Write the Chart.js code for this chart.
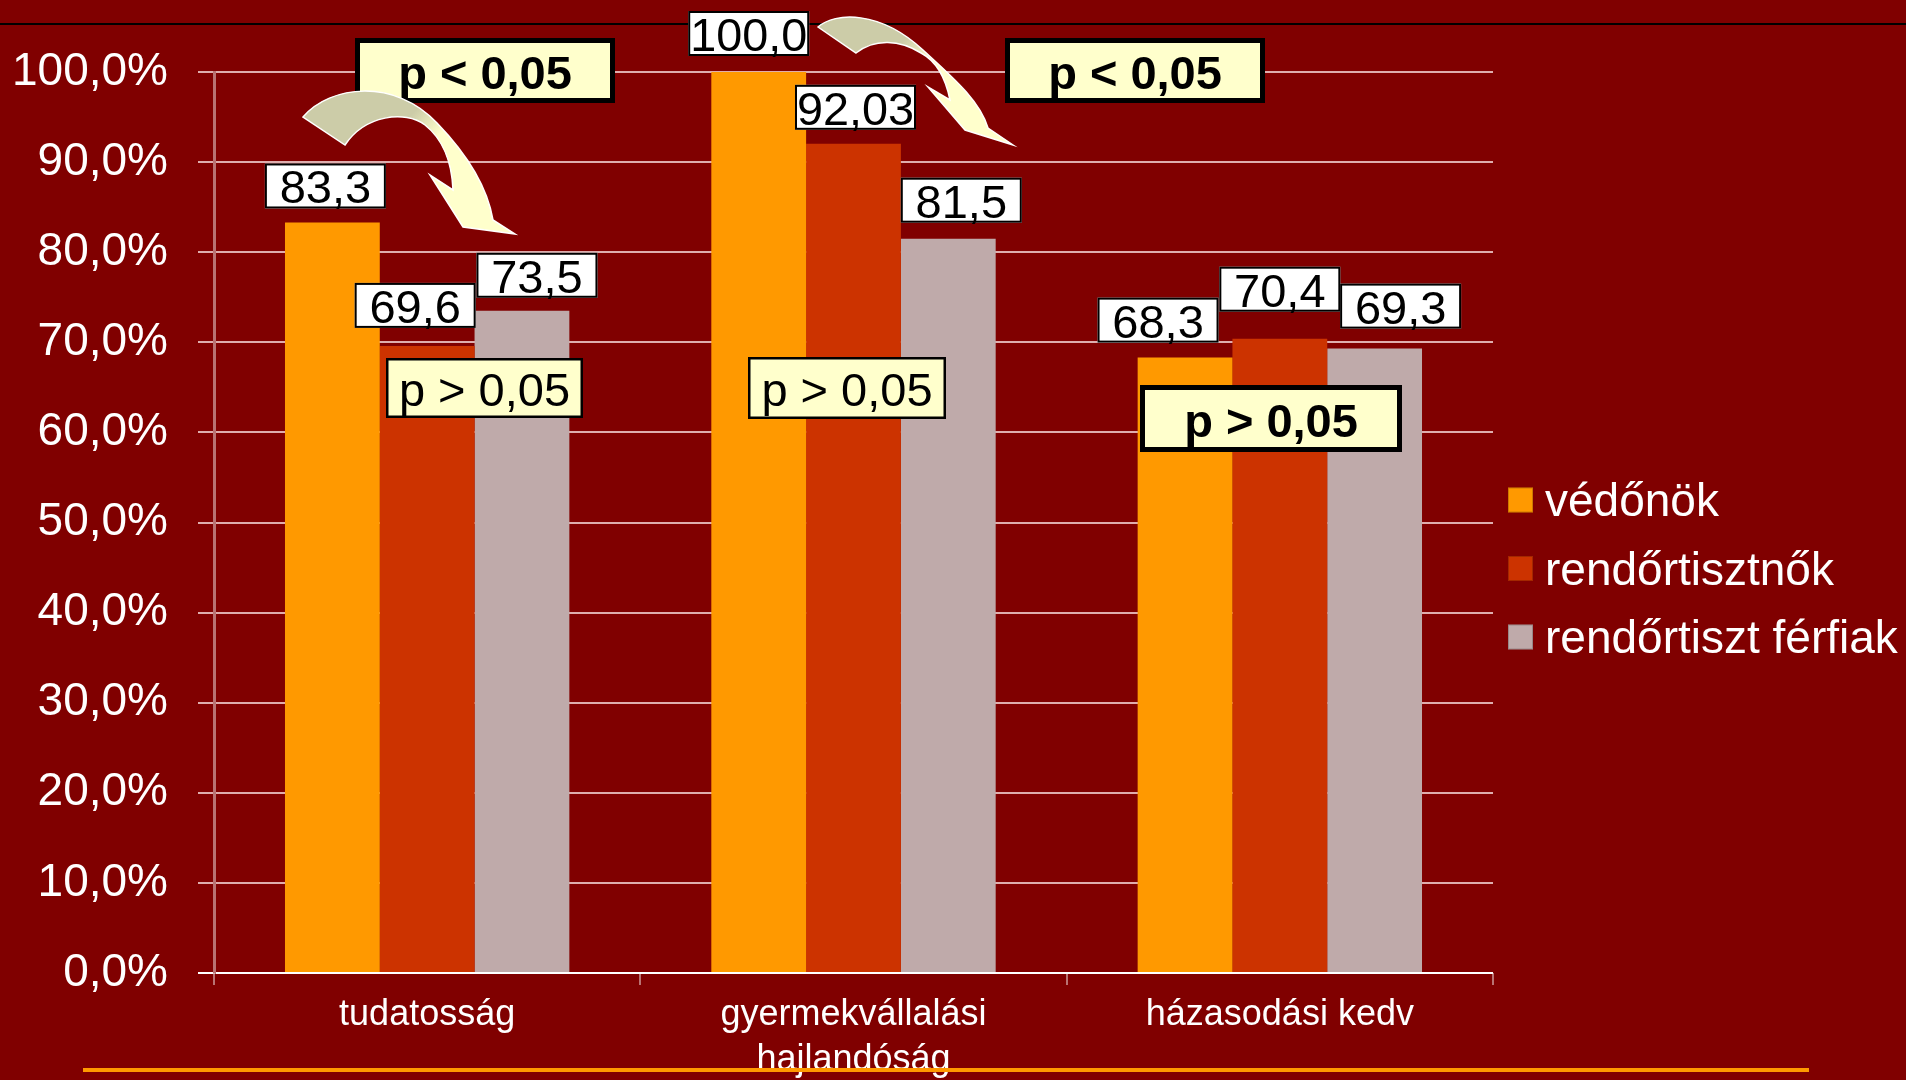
<!DOCTYPE html>
<html>
<head>
<meta charset="utf-8">
<script src="https://cdn.jsdelivr.net/npm/chart.js@4.4.1/dist/chart.umd.min.js"></script>
<style>
  html, body { margin: 0; padding: 0; background: #800000; overflow: hidden; }
  #wrap { position: relative; width: 1906px; height: 1080px; }
</style>
</head>
<body>
<div id="wrap"><canvas id="grafico"></canvas></div>
<script>
// adatok
const kategoriak = ['tudatosság', ['gyermekvállalási', 'hajlandóság'], 'házasodási kedv'];
const sorozatok = ['védőnök', 'rendőrtisztnők', 'rendőrtiszt férfiak'];
const vedonok = [83.3, 100.0, 68.3];
const rendortisztnok = [69.6, 92.03, 70.4];
const ferfiak = [73.5, 81.5, 69.3];
const szinek = ['#FF9900', '#CC3300', '#BFAAAA'];
const pErtekek = ['p < 0,05', 'p < 0,05', 'p > 0,05', 'p > 0,05', 'p > 0,05'];

const FONT = '"Liberation Sans", Arial, sans-serif';

// címkék kis eltolása [dx, rés] sorozatonként
const cimkeEltolas = [
    [[-7, 14], [-10, 16], [-27, 15]],
    [[-12, 18], [2, 14], [0, 27]],
    [[15, 13], [13, 16], [26, 20]]
];

// p-érték dobozok
const pDobozok = [
    { x: 355, y: 38, w: 260, h: 65, bold: true, lw: 5 },
    { x: 1005, y: 38, w: 260, h: 65, bold: true, lw: 5 },
    { x: 1140, y: 385, w: 262, h: 67, bold: true, lw: 5 },
    { x: 386, y: 358, w: 197, h: 60, bold: false, lw: 2.5 },
    { x: 748, y: 357, w: 198, h: 62, bold: false, lw: 2.5 }
];

// ívelt nyilak
const nyilak = [
    { g: [418, 108, 442, 132], cmd: [
        ['M', 303, 117], ['C', 330, 85, 395, 78, 437, 123], ['C', 465, 152, 487, 185, 493, 220],
        ['L', 515, 234], ['L', 463, 227], ['L', 430, 175], ['L', 453, 190],
        ['C', 452, 165, 444, 140, 425, 125], ['C', 405, 110, 365, 115, 345, 145]] },
    { g: [905, 38, 932, 62], cmd: [
        ['M', 818, 27], ['C', 835, 12, 880, 10, 923, 50], ['C', 950, 75, 980, 100, 988, 128],
        ['L', 1013, 145], ['L', 965, 130], ['L', 928, 87], ['L', 950, 100],
        ['C', 946, 80, 938, 62, 921, 53], ['C', 900, 40, 875, 38, 856, 53]] }
];

function formaz(v) {
    const s = Number.isInteger(Math.round(v * 100) / 10) ? v.toFixed(1) : v.toFixed(2);
    return s.replace('.', ',');
}

const extrak = {
    id: 'extrak',
    beforeDraw(chart) {
        const ctx = chart.ctx;
        ctx.save();
        ctx.fillStyle = '#800000';
        ctx.fillRect(0, 0, chart.width, chart.height);
        ctx.strokeStyle = '#000000';
        ctx.lineWidth = 2;
        ctx.beginPath();
        ctx.moveTo(0, 24);
        ctx.lineTo(chart.width, 24);
        ctx.stroke();
        ctx.restore();
    },
    afterDraw(chart) {
        const ctx = chart.ctx;
        ctx.save();

        // adatcímkék
        ctx.font = '47px ' + FONT;
        ctx.textAlign = 'center';
        ctx.textBaseline = 'alphabetic';
        chart.data.datasets.forEach((ds, i) => {
            chart.getDatasetMeta(i).data.forEach((bar, j) => {
                const [dx, gap] = cimkeEltolas[i][j];
                const cx = bar.x + dx;
                const bottom = bar.y - gap;
                const w = 121, h = 45;
                ctx.fillStyle = '#FFFFFF';
                ctx.fillRect(cx - w / 2, bottom - h, w, h);
                ctx.strokeStyle = '#000000';
                ctx.lineWidth = 2;
                ctx.strokeRect(cx - w / 2 + 1, bottom - h + 1, w - 2, h - 2);
                ctx.fillStyle = '#000000';
                ctx.fillText(formaz(ds.data[j]), cx, bottom - 5, w - 4);
            });
        });

        // p-érték dobozok
        pDobozok.forEach((b, k) => {
            ctx.fillStyle = '#FFFFCC';
            ctx.fillRect(b.x, b.y, b.w, b.h);
            ctx.strokeStyle = '#000000';
            ctx.lineWidth = b.lw;
            ctx.strokeRect(b.x + b.lw / 2, b.y + b.lw / 2, b.w - b.lw, b.h - b.lw);
            ctx.fillStyle = '#000000';
            ctx.font = (b.bold ? 'bold ' : '') + '47px ' + FONT;
            ctx.fillText(pErtekek[k], b.x + b.w / 2, b.y + b.h / 2 + 18);
        });

        // nyilak
        nyilak.forEach(a => {
            ctx.beginPath();
            a.cmd.forEach(c => {
                if (c[0] === 'M') ctx.moveTo(c[1], c[2]);
                else if (c[0] === 'L') ctx.lineTo(c[1], c[2]);
                else ctx.bezierCurveTo(c[1], c[2], c[3], c[4], c[5], c[6]);
            });
            ctx.closePath();
            const grad = ctx.createLinearGradient(a.g[0], a.g[1], a.g[2], a.g[3]);
            grad.addColorStop(0, '#CCCCA8');
            grad.addColorStop(1, '#FFFFCC');
            ctx.fillStyle = grad;
            ctx.fill();
            ctx.strokeStyle = '#FFFFFF';
            ctx.lineWidth = 1.5;
            ctx.stroke();
        });

        // jelmagyarázat
        ctx.textAlign = 'left';
        ctx.font = '46px ' + FONT;
        chart.data.datasets.forEach((ds, i) => {
            const cy = 500 + i * 68.5;
            ctx.fillStyle = ds.backgroundColor;
            ctx.fillRect(1508, cy - 12.5, 25, 25);
            ctx.strokeStyle = 'rgba(0,0,0,0.2)';
            ctx.lineWidth = 1;
            ctx.strokeRect(1508.5, cy - 12, 24, 24);
            ctx.fillStyle = '#FFFFFF';
            ctx.fillText(ds.label, 1545, cy + 16);
        });

        // alsó narancs vonal
        ctx.fillStyle = '#FF9900';
        ctx.fillRect(83, 1068, 1726, 4);
        ctx.restore();
    }
};

const ctx = document.getElementById('grafico').getContext('2d');
new Chart(ctx, {
    type: 'bar',
    data: {
        labels: kategoriak,
        datasets: [
            { label: sorozatok[0], data: vedonok, backgroundColor: szinek[0] },
            { label: sorozatok[1], data: rendortisztnok, backgroundColor: szinek[1] },
            { label: sorozatok[2], data: ferfiak, backgroundColor: szinek[2] }
        ]
    },
    options: {
        responsive: true,
        maintainAspectRatio: false,
        animation: false,
        layout: { padding: { top: 72, right: 413, bottom: 0, left: 0 } },
        datasets: { bar: { categoryPercentage: 0.667, barPercentage: 1.0 } },
        plugins: {
            legend: { display: false },
            tooltip: { enabled: false }
        },
        scales: {
            x: {
                afterFit: s => { s.height = 107; },
                grid: {
                    offset: true,
                    drawOnChartArea: false,
                    tickLength: 12,
                    color: 'rgba(255,255,255,0.45)',
                    lineWidth: 2
                },
                border: { display: false },
                ticks: {
                    color: '#FFFFFF',
                    padding: 8,
                    font: { family: FONT, size: 36, lineHeight: 1.25 }
                }
            },
            y: {
                min: 0,
                max: 100,
                afterFit: s => { s.width = 214; },
                grid: {
                    tickLength: 16,
                    color: c => c.tick && c.tick.value === 0 ? '#FFFFFF' : 'rgba(255,232,232,0.75)',
                    lineWidth: 2
                },
                border: { color: 'rgba(255,255,255,0.45)', width: 3 },
                ticks: {
                    stepSize: 10,
                    color: '#FFFFFF',
                    padding: 30,
                    font: { family: FONT, size: 46 },
                    callback: v => v.toFixed(1).replace('.', ',') + '%'
                }
            }
        }
    },
    plugins: [extrak]
});
</script>
</body>
</html>
